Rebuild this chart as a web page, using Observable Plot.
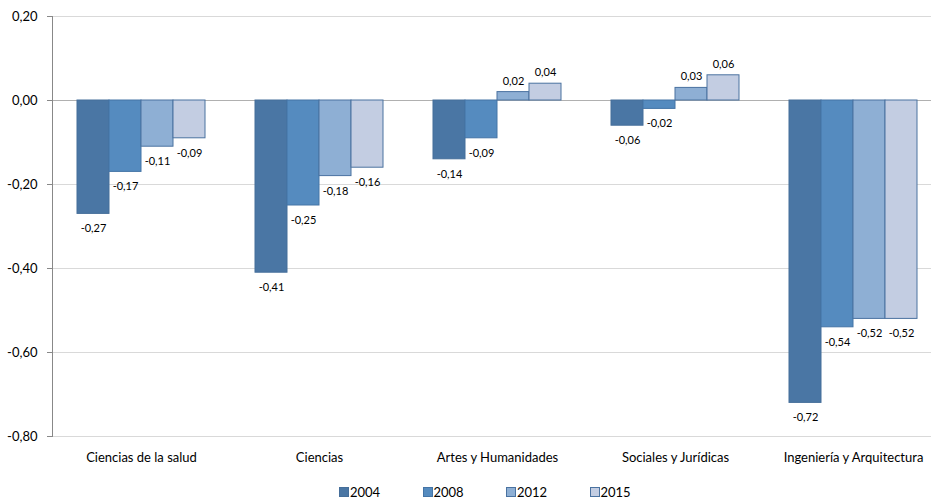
<!DOCTYPE html>
<html>
<head>
<meta charset="utf-8">
<script src="https://cdn.jsdelivr.net/npm/d3@7"></script>
<script src="https://cdn.jsdelivr.net/npm/@observablehq/plot@0.6"></script>
<style>
  html, body { margin: 0; padding: 0; background: #fff; }
  body { width: 931px; height: 504px; overflow: hidden; font-family: Lato, "Open Sans", sans-serif; }
  #chart { width: 931px; overflow: hidden; height: 476px; }
  #chart svg { max-width: none !important; }
  #legend { position: absolute; left: 339px; top: 484px; display: flex; font-size: 13px; color: #000; }
  .item { display: flex; align-items: center; width: 83.5px; }
  .sw { width: 10px; height: 10px; margin-right: 1px; box-sizing: border-box; border: 1px solid #4a72a0; }
</style>
</head>
<body>
<div id="chart"></div>
<div id="legend"></div>
<script>
const categories = ["Ciencias de la salud", "Ciencias", "Artes y Humanidades", "Sociales y Jurídicas", "Ingeniería y Arquitectura"];
const years = ["2004", "2008", "2012", "2015"];
const v2004 = [-0.27, -0.41, -0.14, -0.06, -0.72];
const v2008 = [-0.17, -0.25, -0.09, -0.02, -0.54];
const v2012 = [-0.11, -0.18, 0.02, 0.03, -0.52];
const v2015 = [-0.09, -0.16, 0.04, 0.06, -0.52];
const yTicks = [0.2, 0, -0.2, -0.4, -0.6, -0.8];
const colors = ["#4a76a4", "#558bbf", "#8eafd4", "#c3cde2"];
const strokes = ["#456e9a", "#4474a6", "#4a72a0", "#4a72a0"];

const series = [v2004, v2008, v2012, v2015];
const data = [];
categories.forEach((c, i) => {
  years.forEach((y, j) => data.push({category: c, year: y, value: series[j][i]}));
});
const fmt = v => d3.format(".2f")(v).replace(".", ",").replace("−", "-");
const neg = data.filter(d => d.value < 0);
const pos = data.filter(d => d.value >= 0);

const W = 943;
const chart = Plot.plot({
  width: W,
  height: 476,
  marginTop: 16,
  marginBottom: 40,
  marginLeft: 50,
  marginRight: 0,
  style: {fontFamily: "Lato, 'Open Sans', sans-serif", fontSize: "12px", color: "#000", maxWidth: "none"},
  fx: {domain: categories, padding: 0, label: null},
  x: {domain: years, paddingInner: 0, paddingOuter: 0.75, axis: null},
  y: {domain: [-0.8, 0.2], label: null, axis: null},
  color: {domain: years, range: colors},
  marks: [
    Plot.gridY(yTicks, {stroke: "#d9d9d9", strokeOpacity: 1}),
    Plot.ruleY([0], {stroke: "#b0b0b0", strokeWidth: 1.2}),
    Plot.axisY({ticks: yTicks, tickFormat: fmt, tickSize: 5, tickPadding: 10, stroke: "#888", fontSize: 13, label: null}),
    Plot.frame({anchor: "left", facetAnchor: "left", stroke: "#888"}),
    Plot.barY(data, {fx: "category", x: "year", y: "value", fill: "year", stroke: d => strokes[years.indexOf(d.year)], strokeWidth: 1}),
    Plot.text(neg, {fx: "category", x: "year", y: "value", text: d => fmt(d.value),
      dy: 15, fontSize: 11, fill: "#000"}),
    Plot.text(pos, {fx: "category", x: "year", y: "value", text: d => fmt(d.value),
      dy: -11, fontSize: 11, fill: "#000"}),
    Plot.axisFx({anchor: "bottom", tickSize: 0, tickPadding: 16, fontSize: 13, label: null})
  ]
});
document.getElementById("chart").appendChild(chart);

const legend = document.getElementById("legend");
years.forEach((y, j) => {
  const item = document.createElement("div");
  item.className = "item";
  const sw = document.createElement("span");
  sw.className = "sw";
  sw.style.background = colors[j];
  sw.style.borderColor = strokes[j];
  const t = document.createElement("span");
  t.textContent = y;
  item.appendChild(sw); item.appendChild(t);
  legend.appendChild(item);
});
</script>
</body>
</html>
